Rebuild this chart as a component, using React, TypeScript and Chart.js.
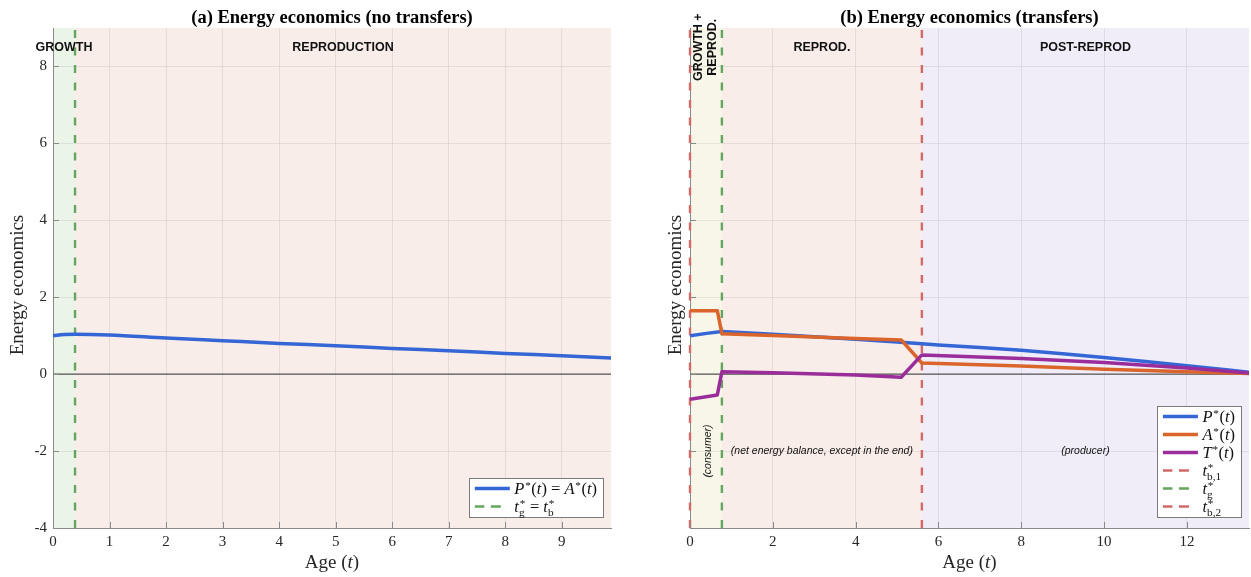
import { useEffect, useRef } from "react";
import { Chart, registerables } from "chart.js";

Chart.register(...registerables);

// ---------- (a) no transfers: P*(t) = A*(t) ----------
const ageA = [0, 0.2, 0.39, 1, 2, 3, 4, 5, 6, 7, 8, 9, 9.87];
const energyA = [1.0, 1.03, 1.04, 1.02, 0.94, 0.87, 0.8, 0.74, 0.67, 0.61, 0.54, 0.48, 0.42];
const tGrowthA = 0.39;
const ageMaxA = 9.87;

// ---------- (b) transfers: P*(t), A*(t), T*(t) ----------
const ageP = [0, 0.4, 0.77, 2, 3, 4, 5, 5.6, 6, 7, 8, 9, 10, 11, 12, 13, 13.5];
const productionB = [1.0, 1.06, 1.11, 1.04, 0.975, 0.91, 0.835, 0.79, 0.76, 0.69, 0.62, 0.53, 0.43, 0.33, 0.22, 0.11, 0.05];
const ageAT = [0, 0.66, 0.77, 2, 4, 5.1, 5.6, 8, 10, 12, 13.5];
const allocationB = [1.65, 1.65, 1.05, 1.005, 0.93, 0.89, 0.29, 0.21, 0.13, 0.06, 0.02];
const transferB = [-0.65, -0.54, 0.06, 0.035, -0.02, -0.08, 0.5, 0.41, 0.3, 0.16, 0.03];
const tBirth1B = 0;
const tGrowthB = 0.77;
const tBirth2B = 5.6;
const ageMaxB = 13.5;

// ---------- shared axes ----------
const yMin = -4;
const yMax = 9;
const yStep = 2;
const xStepA = 1;
const xStepB = 2;

// ---------- text ----------
const titleA = "(a) Energy economics (no transfers)";
const titleB = "(b) Energy economics (transfers)";
const yTitle = "Energy economics";
const phaseLabelsA = [["GROWTH"], ["REPRODUCTION"]];
const phaseLabelsB = [["GROWTH +", "REPROD."], ["REPROD."], ["POST-REPROD"]];
const phaseNotesB = ["(consumer)", "(net energy balance, except in the end)", "(producer)"];
const phaseLabelLevel = 8.5;
const phaseNoteLevel = -2;

// ---------- styling ----------
const BLUE = "#3466d6";
const ORANGE = "#da642a";
const PURPLE = "#9b2d9b";
const GREEN_DASH = "#64a55f";
const RED_DASH = "#d26969";
const BG_GROWTH = "#eaf5e8";
const BG_MIXED = "#f8f6e8";
const BG_REPRO = "#f9ede9";
const BG_POST = "#f0edf9";
const GRID = "rgba(0,0,0,0.075)";
const AXIS = "#8a8a8a";
const SERIF = '"Liberation Serif", "Times New Roman", serif';
const SANS = '"Liberation Sans", Arial, sans-serif';
const DASH = [8, 9.5];

type Tok = { s?: string; it?: boolean; sup?: string; sub?: string };
const it = (s: string): Tok => ({ s, it: true });
const rm = (s: string): Tok => ({ s });
const star = (sub?: string): Tok => ({ sup: "*", sub });

const fnOfT = (name: string): Tok[] => [it(name), star(), rm("("), it("t"), rm(")")];

type LegendItem = { color: string; dashed: boolean; label: Tok[] };

const legendA: LegendItem[] = [
  { color: BLUE, dashed: false, label: [...fnOfT("P"), rm(" = "), ...fnOfT("A")] },
  { color: GREEN_DASH, dashed: true, label: [it("t"), star("g"), rm(" = "), it("t"), star("b")] },
];
const legendB: LegendItem[] = [
  { color: BLUE, dashed: false, label: fnOfT("P") },
  { color: ORANGE, dashed: false, label: fnOfT("A") },
  { color: PURPLE, dashed: false, label: fnOfT("T") },
  { color: RED_DASH, dashed: true, label: [it("t"), star("b,1")] },
  { color: GREEN_DASH, dashed: true, label: [it("t"), star("g")] },
  { color: RED_DASH, dashed: true, label: [it("t"), star("b,2")] },
];

// Draws (or just measures) a run of math-like tokens: italic/roman text with stacked sup/sub scripts.
function richText(ctx: CanvasRenderingContext2D, toks: Tok[], x: number, y: number, size: number, draw: boolean) {
  let cx = x;
  for (const t of toks) {
    if (t.s) {
      ctx.font = `${t.it ? "italic " : ""}${size}px ${SERIF}`;
      if (draw) ctx.fillText(t.s, cx, y);
      cx += ctx.measureText(t.s).width;
    }
    if (t.sup || t.sub) {
      const sm = size * 0.68;
      ctx.font = `${sm}px ${SERIF}`;
      let w = 0;
      if (t.sup) {
        if (draw) ctx.fillText(t.sup, cx + 0.8, y - size * 0.3);
        w = ctx.measureText(t.sup).width + 0.8;
      }
      if (t.sub) {
        if (draw) ctx.fillText(t.sub, cx, y + size * 0.3);
        w = Math.max(w, ctx.measureText(t.sub).width);
      }
      cx += w + 0.5;
    }
  }
  return cx - x;
}

type Phase = { from: number; to: number; color: string; label: string[]; note?: string };

type PanelSpec = {
  title: string;
  xMax: number;
  xStep: number;
  yAxisWidth: number;
  yLabels: boolean;
  yTitleOffset: number;
  padRight: number;
  phases: Phase[];
  legend: LegendItem[];
  datasets: any[];
};

const pts = (xs: number[], ys: number[]) => xs.map((x, i) => ({ x, y: ys[i] }));
const vline = (x: number) => [
  { x, y: yMin },
  { x, y: yMax },
];

const curve = (label: string, data: any[], color: string, order: number, smooth = false) => ({
  label,
  data,
  borderColor: color,
  borderWidth: 3.5,
  pointRadius: 0,
  order,
  cubicInterpolationMode: smooth ? "monotone" : "default",
  tension: 0,
});
const dashed = (label: string, x: number, color: string, order: number) => ({
  label,
  data: vline(x),
  borderColor: color,
  borderWidth: 2.4,
  borderDash: DASH,
  pointRadius: 0,
  order,
  clip: { left: 4, right: 4, top: 0, bottom: 0 },
});
const zeroLine = (xMax: number) => ({
  label: "zero",
  data: [
    { x: 0, y: 0 },
    { x: xMax, y: 0 },
  ],
  borderColor: "#555555",
  borderWidth: 1.2,
  pointRadius: 0,
  order: 10,
});

const panelA: PanelSpec = {
  title: titleA,
  xMax: ageMaxA,
  xStep: xStepA,
  yAxisWidth: 53,
  yLabels: true,
  yTitleOffset: 35,
  padRight: 14,
  phases: [
    { from: 0, to: tGrowthA, color: BG_GROWTH, label: phaseLabelsA[0] },
    { from: tGrowthA, to: ageMaxA, color: BG_REPRO, label: phaseLabelsA[1] },
  ],
  legend: legendA,
  datasets: [
    curve("P*(t) = A*(t)", pts(ageA, energyA), BLUE, 1, true),
    dashed("t*g = t*b", tGrowthA, GREEN_DASH, 5),
    zeroLine(ageMaxA),
  ],
};

const panelB: PanelSpec = {
  title: titleB,
  xMax: ageMaxB,
  xStep: xStepB,
  yAxisWidth: 65,
  yLabels: false,
  yTitleOffset: 14,
  padRight: 2,
  phases: [
    { from: tBirth1B, to: tGrowthB, color: BG_MIXED, label: phaseLabelsB[0], note: phaseNotesB[0] },
    { from: tGrowthB, to: tBirth2B, color: BG_REPRO, label: phaseLabelsB[1], note: phaseNotesB[1] },
    { from: tBirth2B, to: ageMaxB, color: BG_POST, label: phaseLabelsB[2], note: phaseNotesB[2] },
  ],
  legend: legendB,
  datasets: [
    curve("T*(t)", pts(ageAT, transferB), PURPLE, 1),
    curve("A*(t)", pts(ageAT, allocationB), ORANGE, 2),
    curve("P*(t)", pts(ageP, productionB), BLUE, 3),
    dashed("t*b,1", tBirth1B, RED_DASH, 5),
    dashed("t*g", tGrowthB, GREEN_DASH, 6),
    dashed("t*b,2", tBirth2B, RED_DASH, 7),
    zeroLine(ageMaxB),
  ],
};

function decorations(spec: PanelSpec) {
  return {
    id: "decorations",
    beforeDraw(chart: any) {
      const { ctx, chartArea: a } = chart;
      const x = chart.scales.x;
      ctx.save();
      for (const ph of spec.phases) {
        const x0 = x.getPixelForValue(ph.from);
        const x1 = x.getPixelForValue(ph.to);
        ctx.fillStyle = ph.color;
        ctx.fillRect(x0, a.top, x1 - x0, a.bottom - a.top);
      }
      ctx.restore();
    },
    afterDraw(chart: any) {
      const { ctx, chartArea: a } = chart;
      const x = chart.scales.x;
      const y = chart.scales.y;
      ctx.save();

      // inward tick marks
      ctx.strokeStyle = AXIS;
      ctx.lineWidth = 1;
      ctx.beginPath();
      for (const t of x.ticks) {
        const px = Math.round(x.getPixelForValue(t.value)) + 0.5;
        ctx.moveTo(px, a.bottom);
        ctx.lineTo(px, a.bottom - 6);
      }
      for (const t of y.ticks) {
        const py = Math.round(y.getPixelForValue(t.value)) + 0.5;
        ctx.moveTo(a.left, py);
        ctx.lineTo(a.left + 6, py);
      }
      ctx.stroke();

      // phase labels and notes
      ctx.fillStyle = "#111";
      ctx.textAlign = "center";
      ctx.textBaseline = "middle";
      for (const ph of spec.phases) {
        const cx = (x.getPixelForValue(ph.from) + x.getPixelForValue(ph.to)) / 2;
        const ly = y.getPixelForValue(phaseLabelLevel);
        ctx.font = `bold 12.5px ${SANS}`;
        if (ph.label.length > 1) {
          ctx.save();
          ctx.translate(cx, ly);
          ctx.rotate(-Math.PI / 2);
          const n = ph.label.length;
          ph.label.forEach((line, i) => ctx.fillText(line, 0, (i - (n - 1) / 2) * 14));
          ctx.restore();
        } else {
          ctx.fillText(ph.label[0], cx, ly);
        }
        if (ph.note) {
          const ny = y.getPixelForValue(phaseNoteLevel);
          ctx.font = `italic 10.5px ${SANS}`;
          if (ph.label.length > 1) {
            ctx.save();
            ctx.translate(cx + 2, ny);
            ctx.rotate(-Math.PI / 2);
            ctx.fillText(ph.note, 0, 0);
            ctx.restore();
          } else {
            ctx.fillText(ph.note, cx, ny);
          }
        }
      }

      // legend
      const size = 16.5;
      ctx.textAlign = "left";
      ctx.textBaseline = "alphabetic";
      let tw = 0;
      for (const item of spec.legend) tw = Math.max(tw, richText(ctx, item.label, 0, 0, size, false));
      const bw = 5.5 + 35 + 4.5 + tw + 6;
      const bh = 21 + 18 * (spec.legend.length - 1);
      const bx = a.right - 8 - bw;
      const by = a.bottom - 11 - bh;
      ctx.fillStyle = "#ffffff";
      ctx.fillRect(bx, by, bw, bh);
      ctx.strokeStyle = "#7a7a7a";
      ctx.lineWidth = 1;
      ctx.strokeRect(Math.round(bx) + 0.5, Math.round(by) + 0.5, Math.round(bw), Math.round(bh));
      spec.legend.forEach((item, i) => {
        const ry = by + 10.5 + 18 * i;
        const sx = bx + 5.5;
        ctx.strokeStyle = item.color;
        if (item.dashed) {
          ctx.lineWidth = 2.4;
          ctx.beginPath();
          ctx.moveTo(sx, ry);
          ctx.lineTo(sx + 9.5, ry);
          ctx.moveTo(sx + 16, ry);
          ctx.lineTo(sx + 26, ry);
          ctx.stroke();
        } else {
          ctx.lineWidth = 3.5;
          ctx.beginPath();
          ctx.moveTo(sx, ry);
          ctx.lineTo(sx + 35, ry);
          ctx.stroke();
        }
        ctx.fillStyle = "#111";
        richText(ctx, item.label, sx + 35 + 4.5, ry + 5, size, true);
      });

      // panel title
      ctx.fillStyle = "#000";
      ctx.textAlign = "center";
      ctx.font = `bold 18.5px ${SERIF}`;
      ctx.fillText(spec.title, (a.left + a.right) / 2, 23);

      // x-axis title: Age (t)
      ctx.fillStyle = "#262626";
      ctx.textAlign = "left";
      const ageTitle: Tok[] = [rm("Age "), rm("("), it("t"), rm(")")];
      const w = richText(ctx, ageTitle, 0, 0, 19, false);
      richText(ctx, ageTitle, (a.left + a.right) / 2 - w / 2, 567.5, 19, true);

      // y-axis title
      ctx.save();
      ctx.translate(a.left - spec.yTitleOffset, (a.top + a.bottom) / 2 + 7);
      ctx.rotate(-Math.PI / 2);
      ctx.textAlign = "center";
      ctx.textBaseline = "middle";
      ctx.font = `19px ${SERIF}`;
      ctx.fillText(yTitle, 0, 0);
      ctx.restore();

      ctx.restore();
    },
  };
}

function buildConfig(spec: PanelSpec): any {
  return {
    type: "line",
    data: { datasets: spec.datasets },
    options: {
      animation: false,
      responsive: false,
      devicePixelRatio: 1,
      events: [],
      layout: { padding: { top: 28, right: spec.padRight, left: 0, bottom: 0 } },
      plugins: { legend: { display: false }, tooltip: { enabled: false }, title: { display: false } },
      elements: { line: { borderJoinStyle: "round" }, point: { radius: 0 } },
      scales: {
        x: {
          type: "linear",
          min: 0,
          max: spec.xMax,
          afterFit: (s: any) => {
            s.height = 49;
          },
          ticks: {
            stepSize: spec.xStep,
            includeBounds: false,
            padding: 5,
            color: "#262626",
            font: { family: SERIF, size: 15 },
            maxRotation: 0,
            callback: (v: number) => String(v),
          },
          grid: { color: GRID, drawTicks: false },
          border: { color: AXIS, width: 1 },
        },
        y: {
          type: "linear",
          min: yMin,
          max: yMax,
          afterFit: (s: any) => {
            s.width = spec.yAxisWidth;
          },
          ticks: {
            stepSize: yStep,
            includeBounds: false,
            padding: 6,
            display: spec.yLabels,
            color: "#262626",
            font: { family: SERIF, size: 15 },
            callback: (v: number) => String(v),
          },
          grid: { color: GRID, drawTicks: false },
          border: { color: AXIS, width: 1 },
        },
      },
    },
    plugins: [decorations(spec)],
  };
}

function Panel({ spec, width }: { spec: PanelSpec; width: number }) {
  const ref = useRef<HTMLCanvasElement>(null);
  useEffect(() => {
    const chart = new Chart(ref.current as HTMLCanvasElement, buildConfig(spec));
    return () => chart.destroy();
  }, [spec]);
  return <canvas ref={ref} width={width} height={577} style={{ display: "block", width, height: 577 }} />;
}

export default function App() {
  return (
    <div
      style={{
        position: "absolute",
        left: 0,
        top: 0,
        width: 1251,
        height: 577,
        display: "flex",
        background: "#ffffff",
      }}
    >
      <Panel spec={panelA} width={625} />
      <Panel spec={panelB} width={626} />
    </div>
  );
}
